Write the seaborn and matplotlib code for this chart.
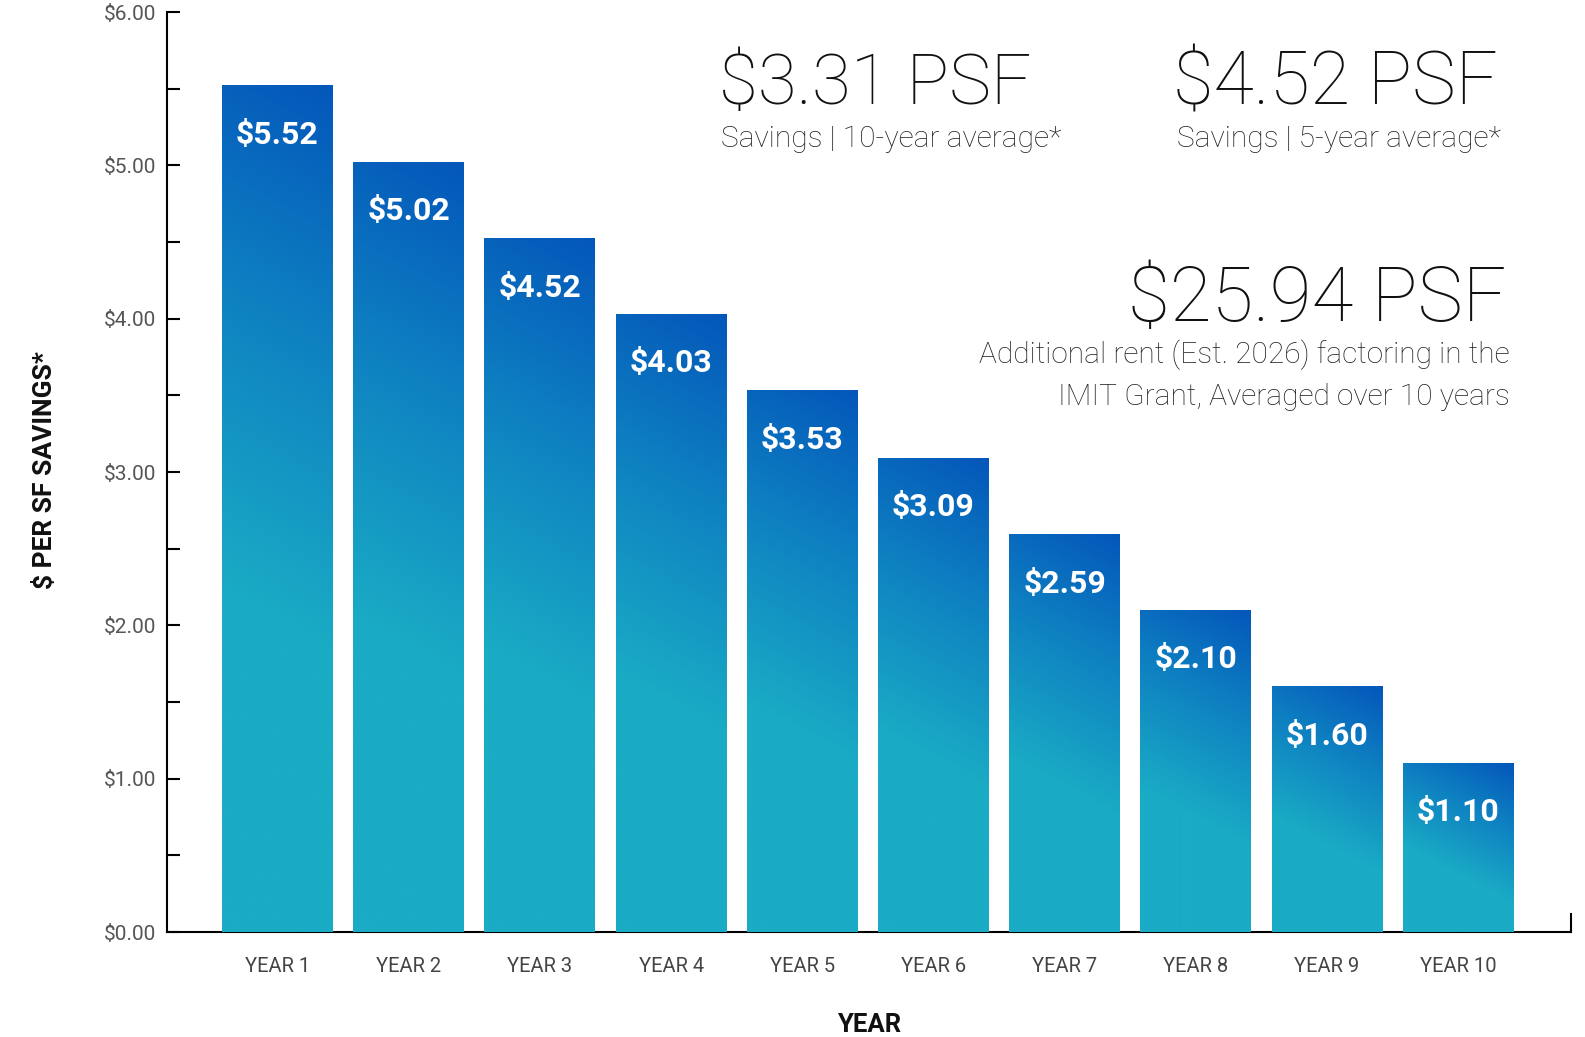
import numpy as np
import pandas as pd
import matplotlib
matplotlib.use("Agg")
import matplotlib.pyplot as plt
import seaborn as sns
from matplotlib.colors import LinearSegmentedColormap

# ---------------- data ----------------
years = ["YEAR 1", "YEAR 2", "YEAR 3", "YEAR 4", "YEAR 5",
         "YEAR 6", "YEAR 7", "YEAR 8", "YEAR 9", "YEAR 10"]
savings = [5.52, 5.02, 4.52, 4.03, 3.53, 3.09, 2.59, 2.10, 1.60, 1.10]
value_labels = ["$5.52", "$5.02", "$4.52", "$4.03", "$3.53",
                "$3.09", "$2.59", "$2.10", "$1.60", "$1.10"]
ytick_values = [0, 1, 2, 3, 4, 5, 6]
ytick_labels = ["$0.00", "$1.00", "$2.00", "$3.00", "$4.00", "$5.00", "$6.00"]
headline_values = ["$3.31 PSF", "$4.52 PSF", "$25.94 PSF"]
headline_notes = ["Savings | 10-year average*", "Savings | 5-year average*"]
rent_note_lines = ["Additional rent (Est. 2026) factoring in the",
                   "IMIT Grant, Averaged over 10 years"]

TEAL = "#1AABC5"
MID = "#0E80C1"
BLUE = "#0457BA"

W, H = 1585, 1037
sns.set_theme(style="white")
plt.rcParams['font.family'] = ['Roboto', 'DejaVu Sans']

fig = plt.figure(figsize=(W / 100, H / 100), dpi=100)
ax = fig.add_axes([167 / W, 1 - 932 / H, (1571 - 167) / W, (932 - 12) / H])

df = pd.DataFrame({"year": years, "savings": savings})
sns.barplot(data=df, x="year", y="savings", ax=ax, width=0.846,
            color=TEAL, saturation=1, zorder=3)
XLIM = (-0.842, 9.859)
YLIM = (0, 6)
ax.set_xlim(*XLIM)
ax.set_ylim(*YLIM)

# ---------------- gradient fill of bars ----------------
cmap = LinearSegmentedColormap.from_list(
    "grad", [(0.0, TEAL), (0.38, TEAL), (0.72, MID), (1.0, BLUE)])
ang = np.deg2rad(28)
fig.canvas.draw()
for patch, lbl in zip(ax.patches, value_labels):
    x0 = patch.get_x()
    w = patch.get_width()
    h = patch.get_height()
    (px0, py0) = ax.transData.transform((x0, 0))
    (px1, py1) = ax.transData.transform((x0 + w, h))
    wp, hp = px1 - px0, py1 - py0
    nx, ny = max(int(wp), 2), max(int(hp), 2)
    gx, gy = np.meshgrid(np.linspace(0, wp, nx), np.linspace(0, hp, ny))
    L = wp * np.sin(ang) + hp * np.cos(ang)
    t = (gx * np.sin(ang) + gy * np.cos(ang)) / L
    img = cmap(t)
    ax.imshow(img, extent=[x0, x0 + w, 0, h], origin="lower",
              aspect="auto", zorder=3, interpolation="bilinear")
    patch.set_facecolor("none")
    patch.set_edgecolor("none")
    ax.annotate(lbl, xy=(x0 + w / 2, h), xytext=(0, -49 * 0.72),
                textcoords="offset points", ha="center", va="center",
                color="white", fontsize=23, fontweight="bold", zorder=5)

ax.set_xlim(*XLIM)
ax.set_ylim(*YLIM)

# ---------------- axes styling ----------------
ax.set_yticks(ytick_values)
ax.set_yticklabels(ytick_labels)
ax.set_yticks(np.arange(0.5, 6, 1), minor=True)
ax.tick_params(axis="y", which="both", direction="in", length=9.5,
               width=1.5, color="black", left=True)
ax.tick_params(axis="y", which="major", labelsize=15, labelcolor="#555555", pad=8)
ax.tick_params(axis="x", length=0, labelsize=14.5, labelcolor="#444444", pad=18)

ax.spines["top"].set_visible(False)
for s in ["left", "bottom", "right"]:
    ax.spines[s].set_visible(True)
    ax.spines[s].set_color("black")
    ax.spines[s].set_linewidth(1.5)
ax.spines["right"].set_bounds(0, 0.117)
ax.spines["bottom"].set_zorder(2)

ax.set_xlabel("YEAR", fontsize=18.5, fontweight="bold", color="#111111")
ax.xaxis.set_label_coords(0.5, -(1025 - 932) / 920)
ax.xaxis.label.set_va("center")
ax.set_ylabel("$ PER SF SAVINGS*", fontsize=19, fontweight="bold", color="#111111")
ax.yaxis.set_label_coords((45.5 - 167) / 1404, (932 - 470) / 920)
ax.yaxis.label.set_va("center")
ax.yaxis.label.set_ha("center")
ax.grid(False)

# ---------------- headline texts ----------------
def fx(px):
    return px / W

def fy(py):
    return 1 - py / H

note = 21.5
fig.text(fx(719), fy(104), headline_values[0], fontsize=51, fontweight="light",
         color="#111111", ha="left", va="baseline")
fig.text(fx(1173), fy(104), headline_values[1], fontsize=53, fontweight="light",
         color="#111111", ha="left", va="baseline")
fig.text(fx(1506), fy(321), headline_values[2], fontsize=55, fontweight="light",
         color="#111111", ha="right", va="baseline")
fig.text(fx(721), fy(139), headline_notes[0], fontsize=note, fontweight="light",
         color="#222222", ha="left", va="center")
fig.text(fx(1177), fy(139), headline_notes[1], fontsize=note, fontweight="light",
         color="#222222", ha="left", va="center")
fig.text(fx(1510), fy(355), rent_note_lines[0], fontsize=note, fontweight="light",
         color="#222222", ha="right", va="center")
fig.text(fx(1510), fy(397), rent_note_lines[1], fontsize=note, fontweight="light",
         color="#222222", ha="right", va="center")

fig.savefig("out.png", dpi=100)
